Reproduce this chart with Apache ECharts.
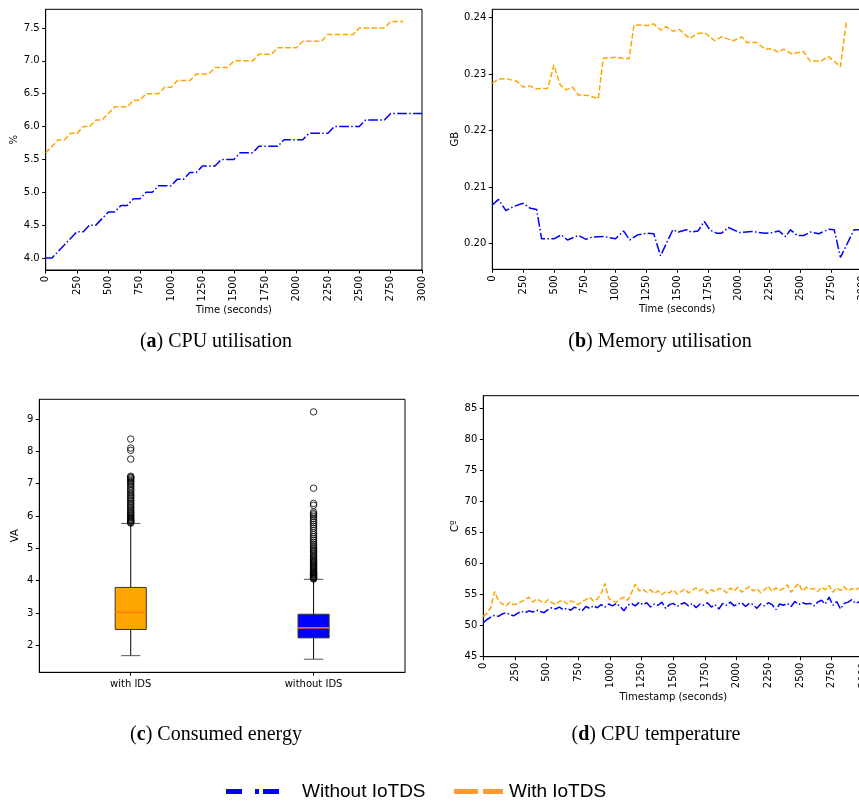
<!DOCTYPE html>
<html><head><meta charset="utf-8">
<script src="https://cdn.jsdelivr.net/npm/echarts@6/dist/echarts.min.js"></script>
<style>html,body{margin:0;padding:0;background:#fff}#c{width:859px;height:805px}</style>
</head><body><div id="c"></div>
<script>
// ---------- (a) CPU utilisation ----------
const cpuTime = [0,50,100,150,200,250,300,350,400,450,500,550,600,650,700,750,800,850,900,950,1000,1050,1100,1150,1200,1250,1300,1350,1400,1450,1500,1550,1600,1650,1700,1750,1800,1850,1900,1950,2000,2050,2100,2150,2200,2250,2300,2350,2400,2450,2500,2550,2600,2650,2700,2750,2800,2850,2900,2950,3000];
const cpuWithout = [4.0,4.0,4.1,4.2,4.3,4.4,4.4,4.5,4.5,4.6,4.7,4.7,4.8,4.8,4.9,4.9,5.0,5.0,5.1,5.1,5.1,5.2,5.2,5.3,5.3,5.4,5.4,5.4,5.5,5.5,5.5,5.6,5.6,5.6,5.7,5.7,5.7,5.7,5.8,5.8,5.8,5.8,5.9,5.9,5.9,5.9,6.0,6.0,6.0,6.0,6.0,6.1,6.1,6.1,6.1,6.2,6.2,6.2,6.2,6.2,6.2];
const cpuWith = [5.6,5.7,5.8,5.8,5.9,5.9,6.0,6.0,6.1,6.1,6.2,6.3,6.3,6.3,6.4,6.4,6.5,6.5,6.5,6.6,6.6,6.7,6.7,6.7,6.8,6.8,6.8,6.9,6.9,6.9,7.0,7.0,7.0,7.0,7.1,7.1,7.1,7.2,7.2,7.2,7.2,7.3,7.3,7.3,7.3,7.4,7.4,7.4,7.4,7.4,7.5,7.5,7.5,7.5,7.5,7.6,7.6,7.6];
const cpuTicks = [4.0,4.5,5.0,5.5,6.0,6.5,7.0,7.5];

// ---------- (b) Memory utilisation ----------
const memTimeWith = [0,50,117,200,250,300,360,450,500,550,600,650,700,780,860,900,1000,1110,1150,1260,1310,1365,1410,1465,1520,1600,1670,1725,1805,1860,1955,2025,2065,2145,2215,2270,2320,2365,2430,2525,2580,2665,2730,2825,2875];
const memWith = [0.2284,0.2291,0.2292,0.2287,0.2277,0.2279,0.2274,0.2275,0.2316,0.2281,0.2272,0.2277,0.2263,0.2262,0.2256,0.2328,0.2330,0.2327,0.2387,0.2386,0.2389,0.2378,0.2384,0.2376,0.2379,0.2363,0.2372,0.2373,0.2359,0.2366,0.2359,0.2366,0.2356,0.2356,0.2344,0.2345,0.2339,0.2344,0.2336,0.2340,0.2323,0.2323,0.2331,0.2313,0.2395];
const memTimeWithout = [0,50,110,170,250,310,360,400,500,560,610,700,760,810,910,1000,1065,1115,1180,1260,1310,1365,1465,1510,1575,1615,1670,1720,1765,1820,1860,1915,2010,2105,2215,2270,2325,2380,2420,2475,2530,2580,2650,2730,2775,2825,2935,3000];
const memWithout = [0.2068,0.2078,0.2058,0.2065,0.2071,0.2062,0.2060,0.2008,0.2008,0.2015,0.2006,0.2014,0.2007,0.2011,0.2012,0.2008,0.2022,0.2006,0.2015,0.2018,0.2017,0.1978,0.2024,0.2020,0.2024,0.2020,0.2022,0.2039,0.2024,0.2018,0.2018,0.2028,0.2019,0.2021,0.2018,0.2019,0.2022,0.2012,0.2024,0.2014,0.2014,0.2020,0.2017,0.2025,0.2024,0.1975,0.2024,0.2024];
const memTicks = [0.20,0.21,0.22,0.23,0.24];

// ---------- (c) Consumed energy ----------
const boxCategories = ['with IDS','without IDS'];
const boxLow = [1.68,1.57];
const boxQ1 = [2.49,2.23];
const boxMedian = [3.02,2.54];
const boxQ3 = [3.79,2.96];
const boxHigh = [5.77,4.04];
const outliersWith = [5.78,5.80,5.83,5.85,5.88,5.90,5.93,5.96,6.00,6.03,6.07,6.10,6.14,6.18,6.22,6.27,6.31,6.36,6.40,6.45,6.50,6.55,6.58,6.63,6.67,6.72,6.78,6.82,6.88,6.93,6.98,7.02,7.06,7.10,7.14,7.18,7.20,7.23,7.76,8.03,8.10,8.38];
const outliersWithout = [4.05,4.07,4.09,4.11,4.13,4.15,4.17,4.19,4.21,4.23,4.25,4.27,4.30,4.33,4.36,4.39,4.42,4.45,4.48,4.51,4.54,4.57,4.60,4.63,4.66,4.70,4.74,4.78,4.82,4.86,4.90,4.94,4.98,5.03,5.08,5.13,5.18,5.24,5.30,5.36,5.42,5.48,5.55,5.62,5.68,5.74,5.80,5.86,5.92,5.98,6.03,6.07,6.12,6.33,6.39,6.86,9.22];
const energyTicks = [2,3,4,5,6,7,8,9];

// ---------- (d) CPU temperature ----------
const tempTime = [0,30,60,90,120,150,180,210,240,270,300,330,360,390,420,450,480,510,540,570,600,630,660,690,720,750,780,810,840,870,900,930,960,990,1020,1050,1080,1110,1140,1170,1200,1230,1260,1290,1320,1350,1380,1410,1440,1470,1500,1530,1560,1590,1620,1650,1680,1710,1740,1770,1800,1830,1860,1890,1920,1950,1980,2010,2040,2070,2100,2130,2160,2190,2220,2250,2280,2310,2340,2370,2400,2430,2460,2490,2520,2550,2580,2610,2640,2670,2700,2730,2760,2790,2820,2850,2880,2910,2940,2970,3000];
const tempWith = [51.5,52.0,53.0,55.5,54.0,53.5,53.2,53.8,53.4,53.5,53.9,54.2,54.6,53.8,54.3,54.0,53.6,54.2,53.7,53.4,53.9,54.1,53.5,54.0,53.8,53.4,53.9,54.2,54.6,54.0,54.3,55.2,56.8,54.4,54.0,53.8,54.3,54.6,54.1,55.3,56.7,55.6,55.9,55.4,55.8,55.2,55.6,55.0,55.5,55.3,55.8,55.1,55.5,55.9,55.3,55.7,56.1,55.6,56.0,55.2,55.8,55.5,56.0,55.9,55.3,56.1,55.6,56.2,55.4,55.9,56.3,55.6,56.0,55.3,55.8,56.4,55.5,56.1,55.7,56.0,56.6,55.4,56.2,56.8,55.6,56.2,55.9,56.0,55.5,56.2,55.8,56.5,55.4,56.1,55.7,56.3,55.6,56.0,55.8,56.1,55.9];
const tempWithout = [50.5,51.0,51.4,51.7,51.5,51.9,52.1,51.8,51.6,52.0,52.3,52.1,52.4,52.2,52.5,52.3,52.1,52.6,52.9,52.7,53.0,52.6,52.8,52.5,53.0,52.7,52.4,53.1,52.8,53.2,52.9,53.4,53.0,53.5,53.2,53.6,53.1,52.4,53.3,53.6,53.2,53.8,53.4,53.7,53.0,53.5,53.3,53.8,52.8,53.4,53.6,53.1,53.5,53.7,53.2,53.6,52.9,53.5,53.3,53.7,53.0,53.4,52.7,53.6,53.3,53.8,53.2,53.5,53.7,53.1,53.6,53.4,52.8,53.5,53.2,53.7,53.4,52.6,53.5,53.3,53.6,53.1,53.9,53.4,53.7,53.5,53.6,53.2,53.8,54.1,53.5,54.6,53.3,53.9,52.7,53.6,53.8,54.2,53.6,53.9,53.7];
const tempTicks = [45,50,55,60,65,70,75,80,85];

const timeTicksLabel = 'Time (seconds)';

// ---------- styles ----------
const BLUE = '#0000ff', ORANGE = '#ffa500';
const DASHDOT = [9.6,2.4,1.5,2.4], DASHED = [5.5,2.4];
const tickFont = {color:'#000', fontSize:10, fontFamily:'DejaVu Sans'};
const zip = (xs, ys) => ys.map((y,i)=>[xs[i], y]);

function yAxisOf(grid, min, max, ticks, name, gap, dec){
  return {gridIndex:grid, type:'value', min, max, name, nameLocation:'middle', nameGap:gap, nameRotate:90,
    nameTextStyle:tickFont,
    axisLine:{show:true,lineStyle:{color:'#000',width:1}},
    axisTick:{show:true,inside:false,length:3.5,customValues:ticks,lineStyle:{color:'#000'}},
    axisLabel:{...tickFont, margin:6, customValues:ticks, formatter:v=>dec==null?String(v):Number(v).toFixed(dec)},
    splitLine:{show:false}};
}
function xTimeAxis(grid, name, gap){
  return {gridIndex:grid, type:'value', min:0, max:3000, interval:250, name, nameLocation:'middle', nameGap:gap,
    nameTextStyle:tickFont,
    axisLine:{show:true,onZero:false,lineStyle:{color:'#000',width:1}},
    axisTick:{show:true,inside:false,length:3.5,lineStyle:{color:'#000'}},
    axisLabel:{...tickFont, rotate:90, margin:6, formatter:v=>String(v)},
    splitLine:{show:false}};
}
const gridStyle = {show:true, borderColor:'#000', borderWidth:1, containLabel:false, outerBoundsMode:'none'};

const boxFill = [ORANGE, BLUE];

const option = {
  animation:false,
  backgroundColor:'#fff',
  grid:[
    {...gridStyle, left:45.7, top:9.3, width:376.3, height:260.7},
    {...gridStyle, left:492.3, top:9.3, width:369.7, height:260},
    {...gridStyle, left:39.3, top:399.3, width:365.7, height:273},
    {...gridStyle, left:483.3, top:395.7, width:380, height:261}
  ],
  xAxis:[
    xTimeAxis(0, timeTicksLabel, 31),
    xTimeAxis(1, timeTicksLabel, 31),
    {gridIndex:2, type:'category', data:boxCategories, boundaryGap:true,
     axisLine:{show:true,lineStyle:{color:'#000'}},
     axisTick:{show:true,alignWithLabel:true,length:3.5,lineStyle:{color:'#000'}},
     axisLabel:{...tickFont, margin:7}, splitLine:{show:false}},
    xTimeAxis(3, 'Timestamp (seconds)', 31)
  ],
  yAxis:[
    yAxisOf(0, 3.817, 7.785, cpuTicks, '%', 25, 1),
    yAxisOf(1, 0.1954, 0.24148, memTicks, 'GB', 30, 2),
    yAxisOf(2, 1.165, 9.609, energyTicks, 'VA', 19, null),
    yAxisOf(3, 45, 87.1, tempTicks, 'Cº', 23, null)
  ],
  series:[
    {name:'Without IoTDS', type:'line', xAxisIndex:0, yAxisIndex:0, data:zip(cpuTime,cpuWithout), symbol:'none',
     lineStyle:{color:BLUE,width:1.5,type:DASHDOT}},
    {name:'With IoTDS', type:'line', xAxisIndex:0, yAxisIndex:0, data:zip(cpuTime,cpuWith), symbol:'none',
     lineStyle:{color:ORANGE,width:1.5,type:DASHED}},
    {name:'Without IoTDS', type:'line', xAxisIndex:1, yAxisIndex:1, data:zip(memTimeWithout,memWithout), symbol:'none',
     lineStyle:{color:BLUE,width:1.5,type:DASHDOT}},
    {name:'With IoTDS', type:'line', xAxisIndex:1, yAxisIndex:1, data:zip(memTimeWith,memWith), symbol:'none',
     lineStyle:{color:ORANGE,width:1.5,type:DASHED}},
    {name:'Without IoTDS', type:'line', xAxisIndex:3, yAxisIndex:3, data:zip(tempTime,tempWithout), symbol:'none',
     lineStyle:{color:BLUE,width:1.5,type:DASHDOT}},
    {name:'With IoTDS', type:'line', xAxisIndex:3, yAxisIndex:3, data:zip(tempTime,tempWith), symbol:'none',
     lineStyle:{color:ORANGE,width:1.5,type:DASHED}},
    {type:'custom', xAxisIndex:2, yAxisIndex:2,
     data: boxCategories.map((c,i)=>[i, boxLow[i], boxQ1[i], boxMedian[i], boxQ3[i], boxHigh[i]]),
     encode:{x:0, y:[1,2,3,4,5]},
     renderItem:function(params, api){
       const i = api.value(0);
       const lo = api.coord([i, api.value(1)]);
       const q1 = api.coord([i, api.value(2)]);
       const md = api.coord([i, api.value(3)]);
       const q3 = api.coord([i, api.value(4)]);
       const hi = api.coord([i, api.value(5)]);
       const bw = api.size([1,0])[0]*0.17;
       const cw = bw*0.31;
       const cx = md[0];
       return {type:'group', children:[
         {type:'line', shape:{x1:cx,y1:lo[1],x2:cx,y2:q1[1]}, style:{stroke:'#000',lineWidth:1}},
         {type:'line', shape:{x1:cx,y1:q3[1],x2:cx,y2:hi[1]}, style:{stroke:'#000',lineWidth:1}},
         {type:'line', shape:{x1:cx-cw,y1:lo[1],x2:cx+cw,y2:lo[1]}, style:{stroke:'#555',lineWidth:1}},
         {type:'line', shape:{x1:cx-cw,y1:hi[1],x2:cx+cw,y2:hi[1]}, style:{stroke:'#555',lineWidth:1}},
         {type:'rect', shape:{x:cx-bw/2,y:q3[1],width:bw,height:q1[1]-q3[1]}, style:{fill:boxFill[i],stroke:'#333',lineWidth:1}},
         {type:'line', shape:{x1:cx-bw/2,y1:md[1],x2:cx+bw/2,y2:md[1]}, style:{stroke:'#ff7f0e',lineWidth:1.5}}
       ]};
     }},
    {type:'scatter', xAxisIndex:2, yAxisIndex:2, data:outliersWith.map(v=>[0,v]), symbol:'circle', symbolSize:6.5,
     itemStyle:{color:'rgba(0,0,0,0)', borderColor:'#000', borderWidth:1}, z:3},
    {type:'scatter', xAxisIndex:2, yAxisIndex:2, data:outliersWithout.map(v=>[1,v]), symbol:'circle', symbolSize:6.5,
     itemStyle:{color:'rgba(0,0,0,0)', borderColor:'#000', borderWidth:1}, z:3}
  ],
  graphic:[
    ...[
      ['a','CPU utilisation',216,342],
      ['b','Memory utilisation',660,342],
      ['c','Consumed energy',216,735],
      ['d','CPU temperature',656,735]
    ].map(([l,t,x,y])=>({type:'text', x, y, style:{
      text:'{n|(}{b|'+l+'}{n|) '+t+'}', align:'center', verticalAlign:'middle',
      rich:{n:{fontFamily:'Liberation Serif',fontSize:20,fill:'#000'},
            b:{fontFamily:'Liberation Serif',fontSize:20,fontWeight:'bold',fill:'#000'}}}})),
    {type:'line', shape:{x1:226,y1:791.5,x2:279,y2:791.5}, style:{stroke:BLUE,lineWidth:5,lineDash:[16,13,4,4]}},
    {type:'text', x:302, y:792, style:{text:'Without IoTDS', fontFamily:'Liberation Sans', fontSize:19, fill:'#000', verticalAlign:'middle'}},
    {type:'line', shape:{x1:454,y1:791.5,x2:503,y2:791.5}, style:{stroke:'#ff9933',lineWidth:5,lineDash:[24,5]}},
    {type:'text', x:509, y:792, style:{text:'With IoTDS', fontFamily:'Liberation Sans', fontSize:19, fill:'#000', verticalAlign:'middle'}}
  ]
};
const chart = echarts.init(document.getElementById('c'), null, {renderer:'canvas'});
chart.setOption(option);
</script></body></html>
